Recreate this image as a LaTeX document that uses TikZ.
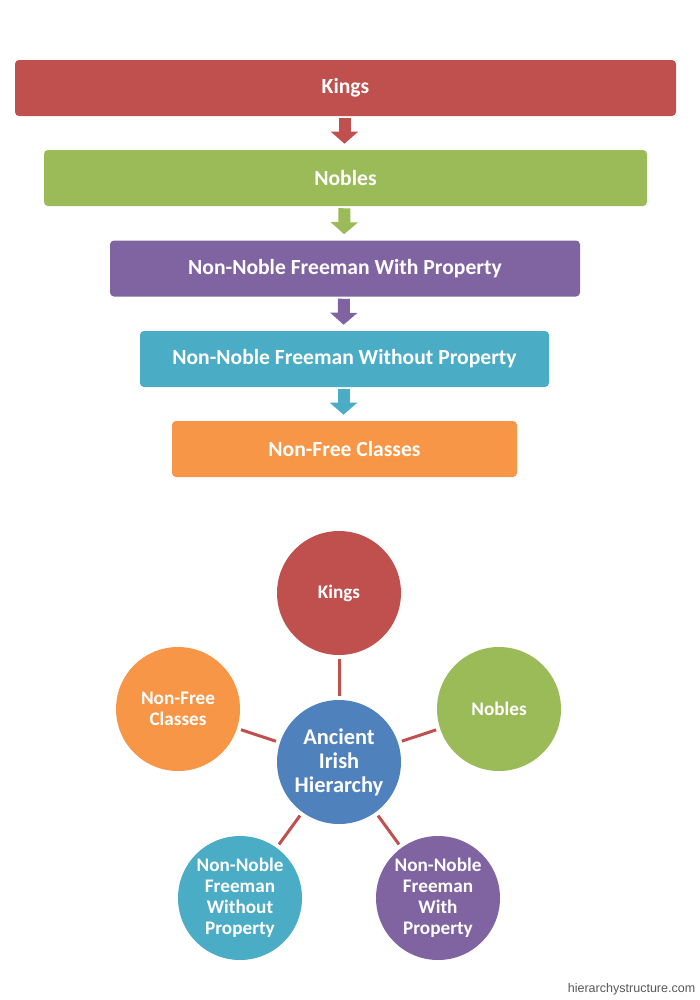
\documentclass[tikz,border=0pt]{standalone}
\usepackage{fontspec}
\setmainfont{Carlito}
\newfontfamily\sitefont{Liberation Sans}
\usetikzlibrary{arrows.meta}

\definecolor{kingred}{HTML}{C0504D}
\definecolor{noblegreen}{HTML}{9BBB59}
\definecolor{propviolet}{HTML}{8064A2}
\definecolor{landteal}{HTML}{4BACC6}
\definecolor{unfreeorange}{HTML}{F79646}
\definecolor{hubblue}{HTML}{4F81BD}

\tikzset{
  bar/.style={fill=#1, rounded corners=3pt, minimum height=42pt, inner sep=0pt,
    text=white, font=\bfseries\fontsize{16.2}{19}\selectfont},
  ring/.style={circle, fill=#1, minimum size=93pt, inner sep=0pt, text=white,
    align=center, font=\bfseries\fontsize{14.4}{15.75}\selectfont},
  drop/.style={draw=#1, line width=9pt, -{Triangle[width=20pt,length=9pt]},
    shorten <=1.5pt, shorten >=4.5pt},
  spoke/.style={draw=kingred, line width=2.25pt, shorten <=3pt, shorten >=3pt}
}

\begin{document}
\begin{tikzpicture}[x=0.75pt, y=-0.75pt]
\useasboundingbox[fill=white] (0,0) rectangle (700,1000);

% the ladder of classes
\node[bar=kingred, minimum width=661*0.75pt] (kings) at (345.5,88) {Kings};
\node[bar=noblegreen, minimum width=603*0.75pt] (nobles) at (345.5,178) {Nobles};
\node[bar=propviolet, minimum width=470*0.75pt] (withprop) at (345,268.5) {Non-Noble Freeman With Property};
\node[bar=landteal, minimum width=409*0.75pt] (noprop) at (344.5,359) {Non-Noble Freeman Without Property};
\node[bar=unfreeorange, minimum width=345*0.75pt] (unfree) at (344.5,449) {Non-Free Classes};

% block arrows between the bars
\foreach \a/\b/\c in {kings/nobles/kingred, nobles/withprop/noblegreen,
    withprop/noprop/propviolet, noprop/unfree/landteal} {
  \draw[drop=\c] ([xshift=-0.75pt]\a.south) -- ([xshift=-0.75pt]\b.north);
}

% the wheel
\node[ring=hubblue, font=\bfseries\fontsize{16.8}{18}\selectfont] (hub) at (339,762) {Ancient\\Irish\\Hierarchy};
\foreach \n/\x/\y/\c/\t in {kingc/339/593/kingred/Kings,
    noblec/499/709/noblegreen/Nobles,
    withc/438/898/propviolet/{Non-Noble\\Freeman\\With\\Property},
    noc/240/898/landteal/{Non-Noble\\Freeman\\Without\\Property},
    unfreec/178/709/unfreeorange/{Non-Free\\Classes}} {
  \node[ring=\c] (\n) at (\x,\y) {\t};
  \draw[spoke] (hub) -- (\n);
}

\node[anchor=east, text=black!65, font=\sitefont\fontsize{9.4}{11}\selectfont] (site) at (700,989) {hierarchystructure.com};

\end{tikzpicture}
\end{document}
